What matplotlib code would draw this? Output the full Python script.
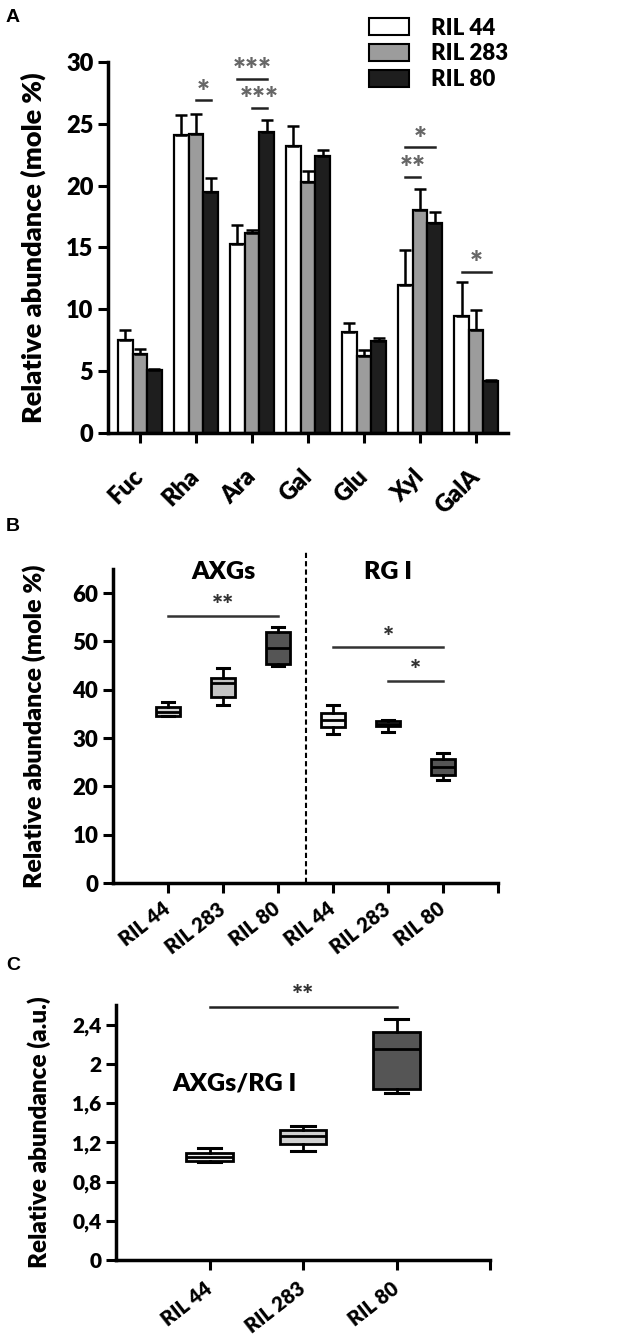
import numpy as np
import matplotlib
matplotlib.use("Agg")
import matplotlib.pyplot as plt
from matplotlib.patches import Patch

plt.rcParams['font.family'] = ['Lato', 'DejaVu Sans']
plt.rcParams['font.weight'] = 'heavy'
plt.rcParams['axes.labelweight'] = 'heavy'

# ---------------- data ----------------
sugars = ['Fuc', 'Rha', 'Ara', 'Gal', 'Glu', 'Xyl', 'GalA']
lines = ['RIL 44', 'RIL 283', 'RIL 80']
bar_colors = ['white', '#9c9c9c', '#1e1e1e']

mean_44 = [7.5, 24.1, 15.3, 23.2, 8.2, 12.0, 9.5]
mean_283 = [6.4, 24.2, 16.2, 20.3, 6.2, 18.0, 8.3]
mean_80 = [5.1, 19.5, 24.3, 22.4, 7.4, 17.0, 4.2]
err_44 = [0.85, 1.6, 1.55, 1.6, 0.7, 2.8, 2.7]
err_283 = [0.4, 1.6, 0.2, 0.9, 0.5, 1.7, 1.65]
err_80 = [0.1, 1.1, 1.0, 0.45, 0.3, 0.85, 0.1]

# significance in A: (sugar index, bar from, bar to, line height, label)
sig_a = [(1, 1, 2, 26.9, '*'),
         (2, 0, 2, 28.6, '***'),
         (2, 1, 2, 26.3, '***'),
         (5, 0, 2, 23.1, '*'),
         (5, 0, 1, 20.7, '**'),
         (6, 0, 2, 13.0, '*')]

# panel B boxes: AXGs (44, 283, 80) then RG I (44, 283, 80)
b_labels = ['RIL 44', 'RIL 283', 'RIL 80', 'RIL 44', 'RIL 283', 'RIL 80']
b_q1 = [34.6, 38.6, 45.3, 32.3, 32.4, 22.4]
b_med = [35.5, 41.4, 48.6, 33.8, 33.0, 24.1]
b_q3 = [36.5, 42.5, 51.9, 35.2, 33.6, 25.7]
b_lo = [34.6, 36.8, 45.0, 30.8, 31.3, 21.4]
b_hi = [37.4, 44.6, 53.0, 36.8, 33.8, 26.9]
b_colors = ['#d4d4d4', '#c4c4c4', '#555555', '#f4f4f4', '#b0b0b0', '#555555']
sig_b = [(1, 3, 55.3, '**'), (4, 6, 48.8, '*'), (5, 6, 41.9, '*')]

# panel C: AXGs / RG I ratio
c_labels = ['RIL 44', 'RIL 283', 'RIL 80']
c_q1 = [1.005, 1.185, 1.746]
c_med = [1.055, 1.26, 2.15]
c_q3 = [1.09, 1.33, 2.32]
c_lo = [1.0, 1.11, 1.70]
c_hi = [1.14, 1.37, 2.46]
c_colors = ['#f0f0f0', '#d0d0d0', '#555555']
c_ticks = [0, 0.4, 0.8, 1.2, 1.6, 2.0, 2.4]
c_ticklabels = ['0', '0,4', '0,8', '1,2', '1,6', '2', '2,4']

W, H = 624, 1339
fig = plt.figure(figsize=(W / 100, H / 100), dpi=100)


def px_axes(left, right, top, bottom):
    return fig.add_axes([left / W, 1 - bottom / H, (right - left) / W, (bottom - top) / H])


def style(ax, fs):
    for s in ['top', 'right']:
        ax.spines[s].set_visible(False)
    for s in ['left', 'bottom']:
        ax.spines[s].set_linewidth(2.5)
    ax.tick_params(direction='out', length=7, width=2.2, labelsize=fs)


# ---------------- A ----------------
axA = px_axes(108, 508, 62, 433)
x = np.arange(len(sugars))
w = 0.26
means = [mean_44, mean_283, mean_80]
errs = [err_44, err_283, err_80]
for i in range(3):
    e = np.array(errs[i])
    axA.bar(x + (i - 1) * w, means[i], w, color=bar_colors[i], edgecolor='black',
            linewidth=1.6, yerr=[np.zeros_like(e), e], capsize=4,
            error_kw=dict(elinewidth=1.8, capthick=1.8, ecolor='black'), label=lines[i])
for g, a, b, yv, lab in sig_a:
    x0, x1 = g + (a - 1) * w, g + (b - 1) * w
    axA.plot([x0, x1], [yv, yv], color='#222222', lw=1.8, clip_on=False)
    axA.text((x0 + x1) / 2, yv - 0.5, lab, ha='center', va='bottom', fontsize=22,
             color='#666666', clip_on=False)
axA.set_xlim(-0.57, 6.57)
axA.set_ylim(0, 30)
axA.set_yticks([0, 5, 10, 15, 20, 25, 30])
axA.set_xticks(x)
axA.set_xticklabels(sugars, rotation=45, ha='right', va='center', rotation_mode='anchor')
style(axA, 17)
axA.tick_params(axis='x', pad=22)
axA.set_ylabel('Relative abundance (mole %)', fontsize=19.5)
axA.yaxis.set_label_coords(-0.155, 0.5)
handles = [Patch(facecolor=c, edgecolor='black', linewidth=1.5) for c in bar_colors]
fig.legend(handles, lines, loc='upper left', bbox_to_anchor=(353 / W, 1 - 2 / H),
           frameon=False, fontsize=16, handlelength=1.8, handleheight=0.8,
           labelspacing=0.22, handletextpad=1.0, borderpad=0.2)

# ---------------- B ----------------
axB = px_axes(113, 498, 569, 883)
statsB = [dict(med=b_med[i], q1=b_q1[i], q3=b_q3[i], whislo=b_lo[i], whishi=b_hi[i],
               fliers=[]) for i in range(len(b_med))]
bpB = axB.bxp(statsB, positions=range(1, 7), widths=0.45, patch_artist=True,
              showfliers=False,
              boxprops=dict(linewidth=2, edgecolor='black'),
              medianprops=dict(color='black', linewidth=2),
              whiskerprops=dict(linewidth=2), capprops=dict(linewidth=2.2))
for patch, c in zip(bpB['boxes'], b_colors):
    patch.set_facecolor(c)
axB.plot([3.5, 3.5], [0, 68.5], ls=(0, (2.5, 1.5)), color='black', lw=1.5, clip_on=False)
for a, b, yv, lab in sig_b:
    axB.plot([a, b], [yv, yv], color='#333333', lw=1.8)
    axB.text((a + b) / 2, yv - 0.5, lab, ha='center', va='bottom', fontsize=19,
             color='#333333')
axB.text(2, 64.4, 'AXGs', ha='center', va='center', fontsize=18)
axB.text(5, 64.4, 'RG I', ha='center', va='center', fontsize=18)
axB.set_xlim(0, 7)
axB.set_ylim(0, 65)
axB.set_yticks(range(0, 61, 10))
axB.set_xticks(range(1, 8))
axB.set_xticklabels(b_labels + [''], rotation=38, ha='right', va='center',
                    rotation_mode='anchor')
style(axB, 16)
axB.tick_params(axis='x', labelsize=14.5, pad=10)
axB.set_ylabel('Relative abundance (mole %)', fontsize=18)
axB.yaxis.set_label_coords(-0.175, 0.5)

# ---------------- C ----------------
axC = px_axes(116, 490, 1005, 1260)
statsC = [dict(med=c_med[i], q1=c_q1[i], q3=c_q3[i], whislo=c_lo[i], whishi=c_hi[i],
               fliers=[]) for i in range(len(c_med))]
bpC = axC.bxp(statsC, positions=range(1, 4), widths=0.5, patch_artist=True,
              showfliers=False,
              boxprops=dict(linewidth=2, edgecolor='black'),
              medianprops=dict(color='black', linewidth=2),
              whiskerprops=dict(linewidth=2), capprops=dict(linewidth=2.2))
for patch, c in zip(bpC['boxes'], c_colors):
    patch.set_facecolor(c)
axC.plot([1, 3], [2.58, 2.58], color='#222222', lw=1.8, clip_on=False)
axC.text(2, 2.57, '**', ha='center', va='bottom', fontsize=19, color='#333333')
axC.text(0.6, 1.8, 'AXGs/RG I', ha='left', va='center', fontsize=18)
axC.set_xlim(0, 4)
axC.set_ylim(0, 2.6)
axC.set_yticks(c_ticks)
axC.set_yticklabels(c_ticklabels)
axC.set_xticks(range(1, 5))
axC.set_xticklabels(c_labels + [''], rotation=38, ha='right', va='center',
                    rotation_mode='anchor')
style(axC, 15)
axC.tick_params(axis='x', labelsize=14.5, pad=12)
axC.set_ylabel('Relative abundance (a.u.)', fontsize=17.5)
axC.yaxis.set_label_coords(-0.175, 0.5)

# panel letters
for lab, ypx in [('A', 18), ('B', 527), ('C', 965)]:
    fig.text(6 / W, 1 - ypx / H, lab, fontsize=14, fontweight='bold',
             family=['Liberation Sans', 'DejaVu Sans'], ha='left', va='center')

fig.savefig('out.png', dpi=100)
